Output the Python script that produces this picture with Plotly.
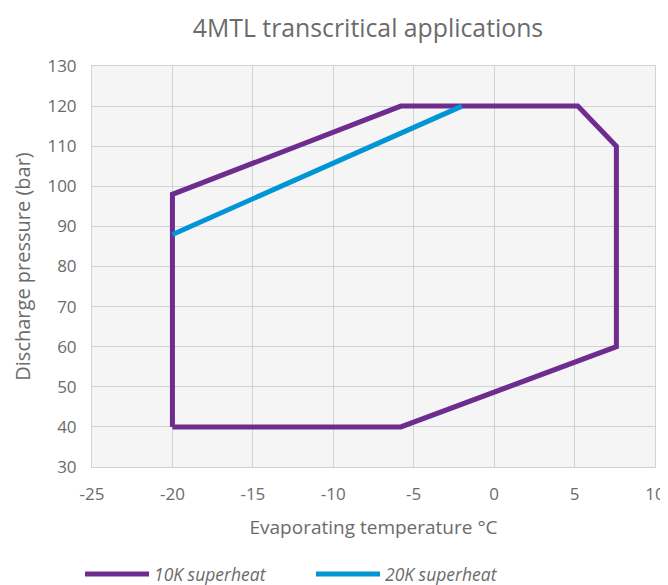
import plotly.graph_objects as go

# 10K superheat envelope (evaporating temp °C, discharge pressure bar)
t10 = [-20, -20, -5.8, 5.2, 7.6, 7.6, -5.8, -20]
p10 = [40, 98, 120, 120, 110, 60, 40, 40]
# 20K superheat line
t20 = [-20, -2]
p20 = [88, 120]

x_ticks = [-25, -20, -15, -10, -5, 0, 5, 10]
y_ticks = [30, 40, 50, 60, 70, 80, 90, 100, 110, 120, 130]

purple = "#6e2c8f"
blue = "#0096d6"
font_fam = "Open Sans, Noto Sans, sans-serif"
gray = "#6b6b6b"

# page body has an 8px default margin; figure is sized to fit the 668x585 window
W, H = 660, 577
OFF = 8

fig = go.Figure()
fig.add_trace(go.Scatter(x=t10, y=p10, mode="lines", name="10K superheat",
                         line=dict(color=purple, width=5), legend="legend", showlegend=True))
fig.add_trace(go.Scatter(x=t20, y=p20, mode="lines", name="20K superheat",
                         line=dict(color=blue, width=5), legend="legend2", showlegend=True))

leg_common = dict(orientation="h", xref="container", xanchor="left",
                  yref="container", y=1 - (574 - OFF) / H, yanchor="middle",
                  font=dict(size=17.5, color=gray, family=font_fam, style="italic"),
                  itemwidth=64, bgcolor="rgba(0,0,0,0)", visible=True)

fig.update_layout(
    width=W, height=H,
    showlegend=True,
    margin=dict(l=92 - OFF, r=13, t=66 - OFF, b=118, autoexpand=False),
    paper_bgcolor="white",
    plot_bgcolor="#f5f5f5",
    font=dict(family=font_fam, color=gray, size=16),
    title=dict(text="4MTL transcritical applications", x=(368 - OFF) / W, xref="container",
               xanchor="center", y=1 - (28 - OFF) / H, yref="container", yanchor="middle",
               font=dict(size=24.8, color=gray, family=font_fam)),
    xaxis=dict(range=[-25, 10], tickvals=x_ticks, ticktext=[str(v) for v in x_ticks],
               showgrid=True, gridcolor="#d2d2d2", gridwidth=1,
               showline=True, linecolor="#d2d2d2", mirror=True, zeroline=False,
               ticks="outside", ticklen=12, tickcolor="rgba(0,0,0,0)",
               title=dict(text="Evaporating temperature °C", font=dict(size=19, color=gray), standoff=16),
               tickfont=dict(size=17, color=gray)),
    yaxis=dict(range=[30, 130], tickvals=y_ticks, ticktext=[str(v) for v in y_ticks],
               showgrid=True, gridcolor="#d2d2d2", gridwidth=1,
               showline=True, linecolor="#d2d2d2", mirror=True, zeroline=False,
               ticks="outside", ticklen=11, tickcolor="rgba(0,0,0,0)",
               title=dict(text="Discharge pressure (bar)", font=dict(size=20, color=gray), standoff=11),
               tickfont=dict(size=17, color=gray)),
    legend=dict(x=(80 - OFF) / W, **leg_common),
    legend2=dict(x=(311 - OFF) / W, **leg_common),
)

fig.write_html("out.html")
